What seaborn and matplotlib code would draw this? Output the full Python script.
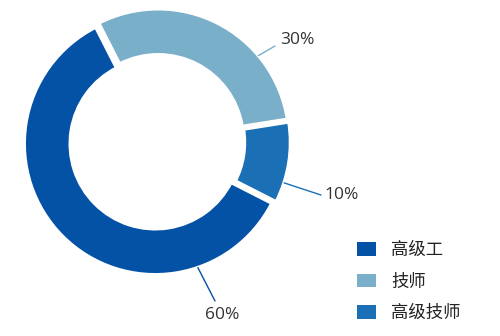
import matplotlib
matplotlib.use("Agg")
import matplotlib.pyplot as plt
import seaborn as sns
import numpy as np

categories = ["高级工", "技师", "高级技师"]
values = [60, 30, 10]
pct_labels = ["60%", "30%", "10%"]
colors = ["#0452A5", "#7AAFCA", "#1B6FB4"]

sns.set_theme(style="white")
plt.rcParams['font.family'] = ['Noto Sans CJK SC', 'DejaVu Sans']

fig = plt.figure(figsize=(5, 3.36), dpi=100)
ax = fig.add_axes([0, 0, 1, 1])

cx, cy = 157, 336 - 142
R = 131
width = 46
wedges, _ = ax.pie(values, colors=colors, startangle=-27, counterclock=False,
                   radius=R, center=(cx, cy), explode=[2.5, 2.5, 2.5],
                   wedgeprops=dict(width=width, edgecolor="white", linewidth=2.5),
                   frame=True)
ax.set_xlim(0, 500)
ax.set_ylim(0, 336)
ax.set_aspect("equal")
ax.axis("off")

# leader lines: (angle on ring, text position)
label_angles = [-71, 40, -18]
text_pos = [(222, 315), (297, 40), (342, 195)]
line_end = [(215, 301), (275, 46), (321, 195)]
for w, ang, lab, tp, le, col in zip(wedges, label_angles, pct_labels, text_pos, line_end, colors):
    a = np.deg2rad(ang)
    wx, wy = w.center
    sx, sy = wx + w.r * np.cos(a), wy + w.r * np.sin(a)
    ax.plot([sx, le[0]], [sy, 336 - le[1]], color=col, lw=1.0)
    ax.text(tp[0], 336 - tp[1], lab, ha="center", va="center", fontsize=12.5,
            color="#333333", family=['Open Sans', 'DejaVu Sans'])

leg = ax.legend(wedges, categories, loc="upper left", bbox_to_anchor=(357, 336 - 241),
                bbox_transform=ax.transData, frameon=False, fontsize=12.5,
                handlelength=1.1, handleheight=0.8, handletextpad=0.85,
                labelspacing=0.78, borderpad=0, borderaxespad=0)
for t in leg.get_texts():
    t.set_color("#222222")
for h in leg.legend_handles:
    h.set_edgecolor("none")

fig.savefig("out.png", dpi=100)
